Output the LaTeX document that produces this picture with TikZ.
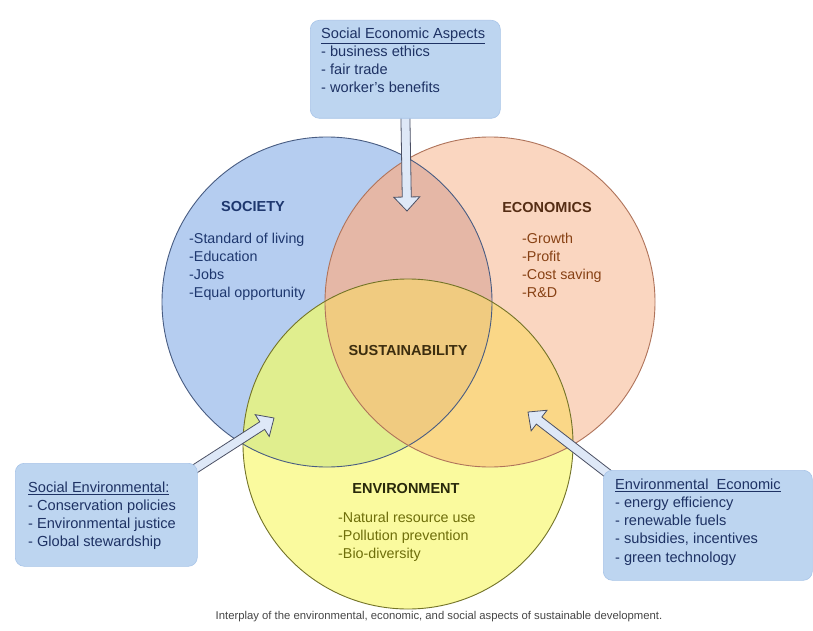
\documentclass[tikz,border=0pt]{standalone}
\usepackage{fontspec}
\setmainfont{Liberation Sans}
\usetikzlibrary{calc,backgrounds}

\definecolor{socfill}{RGB}{181,205,240}
\definecolor{econfill}{RGB}{250,214,192}
\definecolor{envfill}{RGB}{250,250,158}
\definecolor{soceconfill}{RGB}{229,183,166}
\definecolor{socenvfill}{RGB}{224,238,142}
\definecolor{econenvfill}{RGB}{250,215,135}
\definecolor{corefill}{RGB}{240,203,128}
\definecolor{socedge}{RGB}{72,92,130}
\definecolor{econedge}{RGB}{175,115,90}
\definecolor{envedge}{RGB}{115,115,40}
\definecolor{boxfill}{RGB}{189,213,240}
\definecolor{boxedge}{RGB}{168,196,232}
\definecolor{boxtext}{RGB}{30,50,100}
\definecolor{arrowfill}{RGB}{222,232,247}
\definecolor{arrowedge}{RGB}{75,80,100}
\definecolor{soctext}{RGB}{30,55,110}
\definecolor{econtitle}{RGB}{85,45,20}
\definecolor{econtext}{RGB}{135,65,20}
\definecolor{coretext}{RGB}{60,45,15}
\definecolor{envtitle}{RGB}{40,40,10}
\definecolor{envtext}{RGB}{110,110,10}
\definecolor{captext}{RGB}{70,70,70}

\def\blockarrow(#1)(#2){\draw[bigarrow] let \p1=($(#2)-(#1)$), \n1={atan2(\y1,\x1)} in
  ($(#1)+({\n1+90}:4.5pt)$) -- ($(#2)+({\n1+180}:14pt)+({\n1+90}:4.5pt)$) -- ($(#2)+({\n1+180}:14pt)+({\n1+90}:13pt)$)
  -- (#2) -- ($(#2)+({\n1+180}:14pt)+({\n1-90}:13pt)$) -- ($(#2)+({\n1+180}:14pt)+({\n1-90}:4.5pt)$) -- ($(#1)+({\n1-90}:4.5pt)$) -- cycle;}

\begin{document}
\begin{tikzpicture}[x=1pt, y=-1pt,
    infobox/.style={draw=boxedge, fill=boxfill, line width=0.6pt, rounded corners=9pt},
    boxlines/.style={align=left, inner sep=0pt, text=boxtext, font=\fontsize{14.6}{18.2}\selectfont},
    ringtitle/.style={inner sep=0pt, font=\fontsize{14.5}{17}\selectfont\bfseries},
    ringlines/.style={align=left, inner sep=0pt, font=\fontsize{14.3}{18}\selectfont},
    bigarrow/.style={draw=arrowedge, fill=arrowfill, line width=0.8pt, line join=miter}]
			%%%%% START %%%%%
			
			\useasboundingbox (0,0) rectangle (813,631);
			
			\coordinate (socc) at (327,302);
			\coordinate (econc) at (490,302);
			\coordinate (envc) at (408,444);
			
			% the three boxes
			\node[infobox, minimum width=190pt, minimum height=98pt, anchor=north west] (seabox) at (310,20) {};
			\node[boxlines, anchor=north west] (seatext) at (321,27.6) {\underline{Social Economic Aspects}\\- business ethics\\- fair trade\\- worker's benefits};
			
			\node[infobox, minimum width=182pt, minimum height=103pt, anchor=north west] (sebox) at (15,463) {};
			\node[boxlines, anchor=north west] (setext) at (28,481.6) {\underline{Social Environmental:}\\- Conservation policies\\- Environmental justice\\- Global stewardship};
			
			\node[infobox, minimum width=209pt, minimum height=110pt, anchor=north west] (eebox) at (603,470) {};
			\node[boxlines, anchor=north west] (eetext) at (615,478.6) {\underline{Environmental\ \ Economic}\\- energy efficiency\\- renewable fuels\\- subsidies, incentives\\- green technology};
			
			% circles and arrows go under the boxes
			\begin{pgfonlayer}{background}
			\fill[white] (0,0) rectangle (813,631);
			
			\fill[socfill] (socc) circle (165pt);
			\fill[econfill] (econc) circle (165pt);
			\fill[envfill] (envc) circle (165pt);
			\begin{scope}
			\clip (socc) circle (165pt);
			\fill[soceconfill] (econc) circle (165pt);
			\end{scope}
			\begin{scope}
			\clip (socc) circle (165pt);
			\fill[socenvfill] (envc) circle (165pt);
			\end{scope}
			\begin{scope}
			\clip (econc) circle (165pt);
			\fill[econenvfill] (envc) circle (165pt);
			\end{scope}
			\begin{scope}
			\clip (socc) circle (165pt);
			\clip (econc) circle (165pt);
			\fill[corefill] (envc) circle (165pt);
			\end{scope}
			\draw[socedge, line width=0.9pt] (socc) circle (165pt);
			\draw[econedge, line width=0.9pt] (econc) circle (165pt);
			\draw[envedge, line width=0.9pt] (envc) circle (165pt);
			
			\coordinate (seatip) at (407,211);
			\coordinate (setip) at (274,418);
			\coordinate (eetip) at (528,412);
			\blockarrow([yshift=8pt]seabox.south)(seatip)
			\blockarrow([xshift=-6pt,yshift=-8pt]sebox.north east)(setip)
			\blockarrow([xshift=8pt,yshift=-6pt]eebox.north west)(eetip)
			\end{pgfonlayer}
			
			% labels in the circles
			\node[ringtitle, text=soctext] (soctitle) at (253,207) {SOCIETY};
			\node[ringlines, text=soctext, anchor=north west] (socitems) at (189,232.7) {-Standard of living\\-Education\\-Jobs\\-Equal opportunity};
			
			\node[ringtitle, text=econtitle] (econtitle) at (547,208) {ECONOMICS};
			\node[ringlines, text=econtext, anchor=north west] (econitems) at (522,232.7) {-Growth\\-Profit\\-Cost saving\\-R\&D};
			
			\node[ringtitle, text=coretext] (coretitle) at (408,351) {SUSTAINABILITY};
			
			\node[ringtitle, text=envtitle] (envtitle) at (406,489) {ENVIRONMENT};
			\node[ringlines, text=envtext, anchor=north west] (envitems) at (338,511.7) {-Natural resource use\\-Pollution prevention\\-Bio-diversity};
			
			\node[inner sep=0pt, text=captext, font=\fontsize{11.3}{13}\selectfont] (caption) at (439,617) {Interplay of the environmental, economic, and social aspects of sustainable development.};
			
			%%%%% END %%%%%
\end{tikzpicture}
\end{document}
